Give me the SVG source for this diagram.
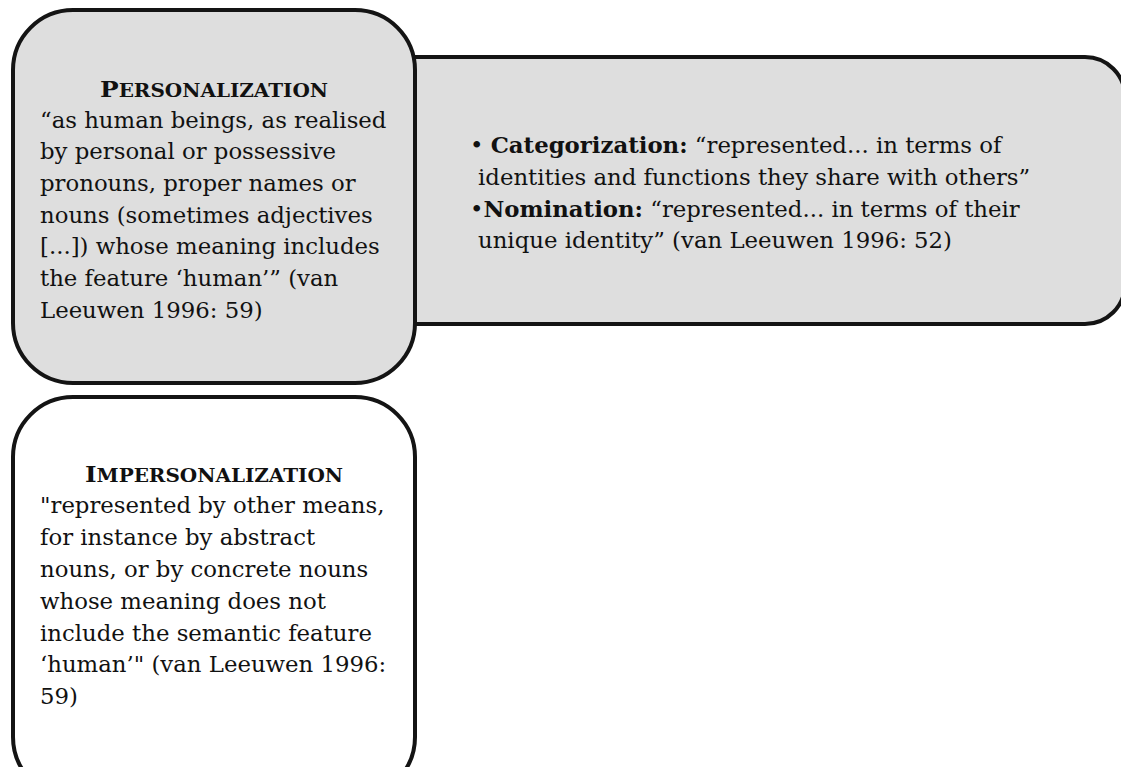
<svg xmlns="http://www.w3.org/2000/svg" width="1121" height="767" viewBox="0 0 1121 767">
<style>
.box{stroke:#141414;stroke-width:4}
.grey{fill:#dedede}
.white{fill:#ffffff}
text{font-family:"DejaVu Serif","Liberation Serif",serif;font-size:22.8px;fill:#111}
.title{font-weight:bold;text-anchor:middle;font-size:18.5px}
.cap{font-size:23px}
.b{font-weight:bold}
</style>
<rect width="1121" height="767" fill="#ffffff"/>
<g id="nomination-categorization">
<path class="box grey" d="M413,57 H1085 A40,40 0 0 1 1125,97 V284 A40,40 0 0 1 1085,324 H413 Z"/>
<text x="470" y="153"><tspan>• </tspan><tspan class="b">Categorization:</tspan><tspan> “represented... in terms of</tspan></text>
<text x="478" y="185">identities and functions they share with others”</text>
<text x="470" y="217"><tspan>•</tspan><tspan class="b">Nomination:</tspan><tspan> “represented... in terms of their</tspan></text>
<text x="478" y="248">unique identity” (van Leeuwen 1996: 52)</text>
</g>
<g id="personalization">
<rect class="box grey" x="13" y="10" width="402" height="373" rx="60" ry="60"/>
<text class="title" x="214" y="97" textLength="228" lengthAdjust="spacingAndGlyphs"><tspan class="cap">P</tspan>ERSONALIZATION</text>
<text x="40" y="128">“as human beings, as realised</text>
<text x="40" y="159">by personal or possessive</text>
<text x="40" y="191">pronouns, proper names or</text>
<text x="40" y="223">nouns (sometimes adjectives</text>
<text x="40" y="254">[...]) whose meaning includes</text>
<text x="40" y="286">the feature ‘human’” (van</text>
<text x="40" y="318">Leeuwen 1996: 59)</text>
</g>
<g id="impersonalization">
<rect class="box white" x="13" y="397" width="402" height="400" rx="60" ry="60"/>
<text class="title" x="214" y="482" textLength="258" lengthAdjust="spacingAndGlyphs"><tspan class="cap">I</tspan>MPERSONALIZATION</text>
<text x="40" y="513">"represented by other means,</text>
<text x="40" y="545">for instance by abstract</text>
<text x="40" y="577">nouns, or by concrete nouns</text>
<text x="40" y="609">whose meaning does not</text>
<text x="40" y="641">include the semantic feature</text>
<text x="40" y="672">‘human’" (van Leeuwen 1996:</text>
<text x="40" y="704">59)</text>
</g>
<g id="connectors"/>
</svg>
